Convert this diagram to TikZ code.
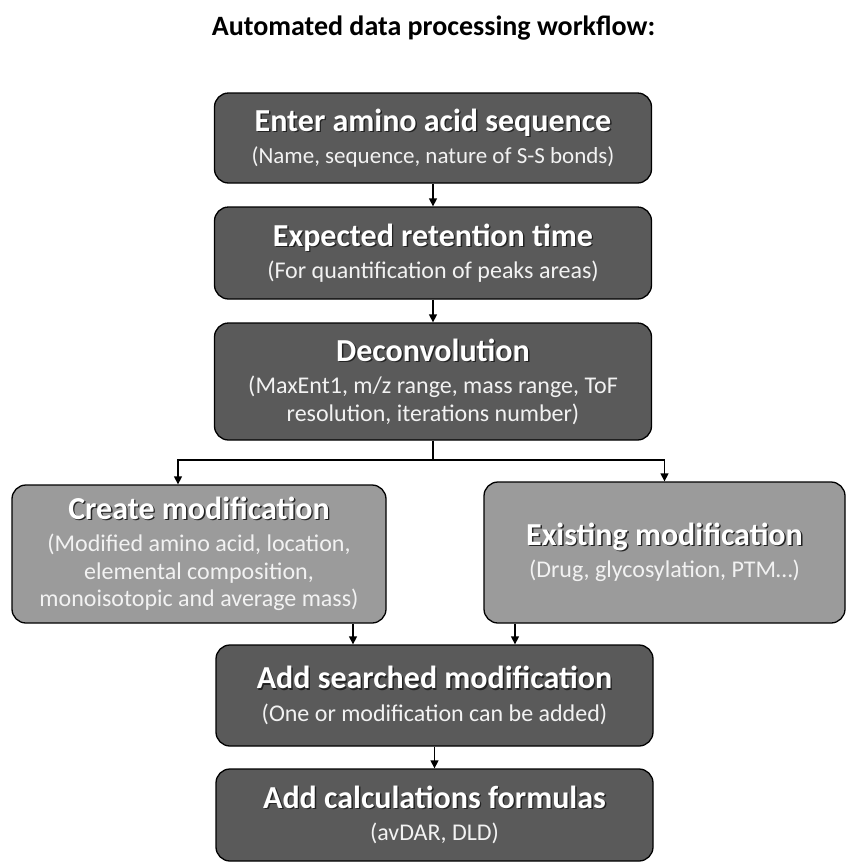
\documentclass[tikz,border=0pt]{standalone}
\usepackage{fontspec}
\setmainfont{Carlito}
\usetikzlibrary{arrows.meta, positioning, calc}
\definecolor{StageDark}{RGB}{90,90,90}
\definecolor{StageLight}{RGB}{155,155,155}
\definecolor{SubText}{RGB}{242,242,242}
\definecolor{HeadShadow}{RGB}{35,35,35}
\newcommand{\shtxt}[1]{\rlap{\kern1.4pt\raisebox{-1.4pt}{\textcolor{HeadShadow}{#1}}}#1}
\newcommand{\hd}[2][32]{{\fontsize{#1}{#1}\selectfont\bfseries\shtxt{#2}}}
\newcommand{\sub}[1]{{\color{SubText}#1}}
\tikzset{
  stage/.style={
    rectangle, rounded corners=14pt,
    minimum width=437pt, inner sep=2pt,
    draw=black, line width=1.3pt, fill=StageDark,
    text=white, align=center,
    font=\fontsize{24}{27.5}\selectfont
  },
  option/.style={stage, fill=StageLight},
  arr/.style={-{Triangle[length=8pt,width=8pt]}, draw=black, line width=1.3pt},
  ln/.style={draw=black, line width=1.3pt},
  ttl/.style={font=\fontsize{28}{30}\selectfont\bfseries}
}

\begin{document}
\begin{tikzpicture}[x=1pt, y=-1pt]
  \useasboundingbox (0,0) rectangle (846,865);

  % Title
  \node[ttl] (title) at (433.5,28) {Automated data processing workflow:};

  % Main column
  \node[stage, minimum height=90pt, font=\fontsize{23}{27.5}\selectfont] (enter) at (433,138)
    {\hd{Enter amino acid sequence}\\[5pt]\sub{(Name, sequence, nature of S-S bonds)}};
  \node[stage, minimum height=92pt] (rtime) at (433,253)
    {\hd{Expected retention time}\\[5pt]\sub{(For quantification of peaks areas)}};
  \node[stage, minimum height=117pt] (deconv) at (433,381.5)
    {\hd{Deconvolution}\\[5pt]\sub{(MaxEnt1, m/z range, mass range, ToF}\\\sub{resolution, iterations number)}};

  % Two branches
  \node[option, minimum width=374pt, minimum height=138pt] (create) at (199,554)
    {\hd{Create modification}\\[5pt]\sub{(Modified amino acid, location,}\\\sub{elemental composition,}\\\sub{monoisotopic and average mass)}};
  \node[option, minimum width=361pt, minimum height=141pt] (existing) at (664.5,552.5)
    {\hd{Existing modification}\\[5pt]\sub{(Drug, glycosylation, PTM\dots)}};

  \node[stage, minimum height=101pt] (addmod) at (434.5,695.5)
    {\hd{Add searched modification}\\[5pt]\sub{(One or modification can be added)}};
  \node[stage, minimum height=92pt] (calc) at (434.5,815)
    {\hd{Add calculations formulas}\\[5pt]\sub{(avDAR, DLD)}};

  % Connectors
  \draw[arr] (enter) -- (rtime);
  \draw[arr] (rtime) -- (deconv);
  \coordinate (split) at (433,460);
  \coordinate (lbr) at (178,460);
  \draw[ln] (deconv) -- (split);
  \draw[arr] (split) -| (lbr |- create.north);
  \draw[arr] (split) -| (existing.north);
  \coordinate (cout) at ($(create.south)+(154,0)$);
  \coordinate (eout) at ($(existing.south)+(-149.5,0)$);
  \draw[arr] (cout) -- (cout |- addmod.north);
  \draw[arr] (eout) -- (eout |- addmod.north);
  \draw[arr] (addmod) -- (calc);
\end{tikzpicture}
\end{document}
